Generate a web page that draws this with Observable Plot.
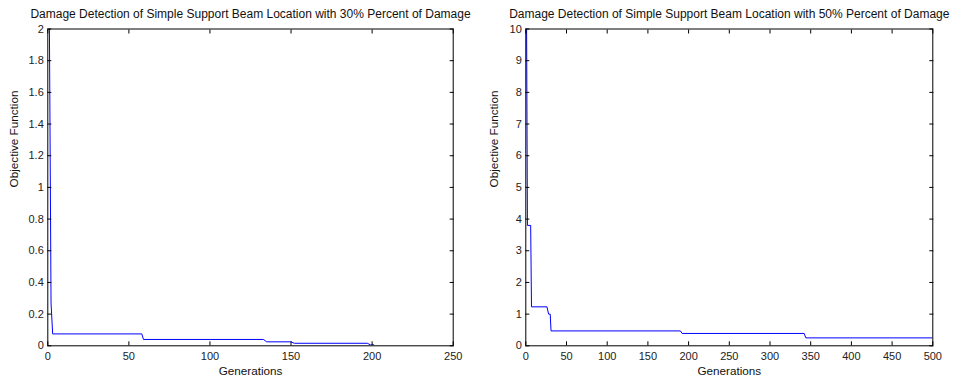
<!DOCTYPE html>
<html><head>
<meta charset="utf-8">
<script src="https://cdn.jsdelivr.net/npm/d3@7"></script>
<script src="https://cdn.jsdelivr.net/npm/@observablehq/plot@0.6"></script>
<style>
body{margin:0;background:#fff;}
#wrap{display:flex;width:960px;height:381px;overflow:hidden;}
</style></head><body><div id="wrap"></div>
<script>
// Panel 1: 30% damage
const gens30 = [1, 2, 3, 58, 59, 133, 135, 150, 152, 197, 199, 201];
const obj30  = [2, 0.27, 0.075, 0.075, 0.04, 0.04, 0.025, 0.025, 0.016, 0.016, 0.006, 0.006];
const xTicks30 = [0, 50, 100, 150, 200, 250];
const yTicks30 = [0, 0.2, 0.4, 0.6, 0.8, 1, 1.2, 1.4, 1.6, 1.8, 2];
const title30 = "Damage Detection of Simple Support Beam Location with 30% Percent of Damage";

// Panel 2: 50% damage
const gens50 = [1, 2, 6, 7, 26, 28, 30, 31, 190, 192, 342, 344, 500];
const obj50  = [10, 3.8, 3.8, 1.23, 1.23, 1.0, 1.0, 0.47, 0.47, 0.39, 0.39, 0.25, 0.25];
const xTicks50 = [0, 50, 100, 150, 200, 250, 300, 350, 400, 450, 500];
const yTicks50 = [0, 1, 2, 3, 4, 5, 6, 7, 8, 9, 10];
const title50 = "Damage Detection of Simple Support Beam Location with 50% Percent of Damage";

const xLabel = "Generations";
const yLabel = "Objective Function";

function panel({gens, vals, xTicks, yTicks, title, marginLeft, marginRight, yDx}) {
  const data = gens.map((g, i) => ({g, v: vals[i]}));
  return Plot.plot({
    width: 480, height: 381,
    marginLeft, marginRight, marginTop: 28.5, marginBottom: 35.7,
    style: {fontFamily: "'Liberation Sans', Arial, sans-serif", fontSize: "11px", color: "black", background: "white", overflow: "visible"},
    x: {domain: [xTicks[0], xTicks[xTicks.length - 1]]},
    y: {domain: [yTicks[0], yTicks[yTicks.length - 1]]},
    marks: [
      Plot.line(data, {x: "g", y: "v", stroke: "blue", strokeWidth: 1, clip: true}),
      Plot.frame({stroke: "black", strokeWidth: 1}),
      Plot.axisX({anchor: "bottom", ticks: xTicks, tickSize: 0, tickPadding: 6, label: null, fill: "#222"}),
      Plot.axisX({anchor: "bottom", ticks: xTicks, tickSize: -4, text: null, label: null}),
      Plot.axisX({anchor: "top", ticks: xTicks, tickSize: -4, text: null, label: null}),
      Plot.axisY({anchor: "left", ticks: yTicks, tickSize: 0, tickPadding: 4, label: null, tickFormat: d => String(d), fill: "#222"}),
      Plot.axisY({anchor: "left", ticks: yTicks, tickSize: -4, text: null, label: null}),
      Plot.axisY({anchor: "right", ticks: yTicks, tickSize: -4, text: null, label: null}),
      Plot.text([title], {frameAnchor: "top", dy: -14.5, lineAnchor: "middle", fontSize: 12, fill: "#111"}),
      Plot.text([xLabel], {frameAnchor: "bottom", dy: 25.4, lineAnchor: "middle", fontSize: 11.7, fill: "#111"}),
      Plot.text([yLabel], {frameAnchor: "left", dx: yDx, rotate: -90, lineAnchor: "middle", fontSize: 11.7, fill: "#111"})
    ]
  });
}

const wrap = document.getElementById("wrap");
wrap.append(panel({gens: gens30, vals: obj30, xTicks: xTicks30, yTicks: yTicks30, title: title30, marginLeft: 47.3, marginRight: 27.3, yDx: -34}));
wrap.append(panel({gens: gens50, vals: obj50, xTicks: xTicks50, yTicks: yTicks50, title: title50, marginLeft: 45.3, marginRight: 27.7, yDx: -32}));
</script>
</body></html>
